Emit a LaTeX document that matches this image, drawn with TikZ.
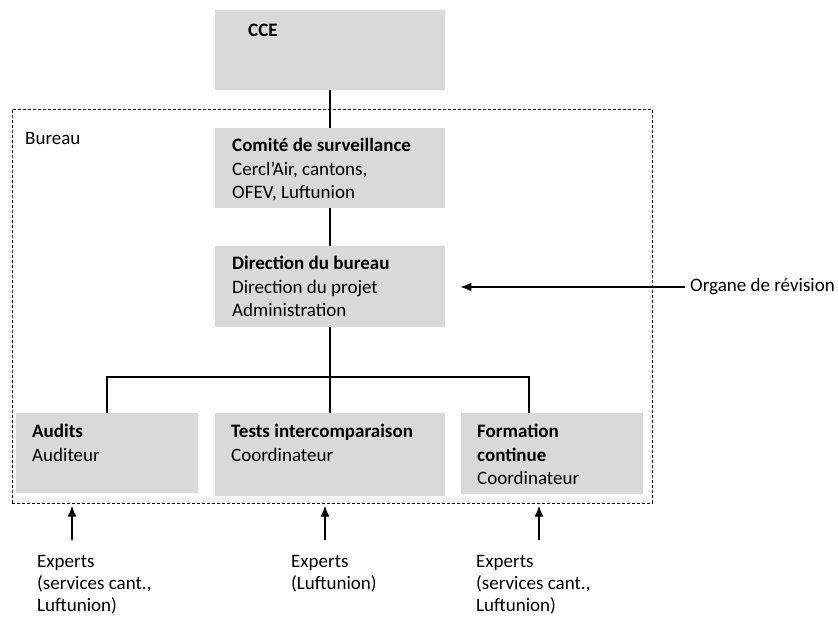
\documentclass[tikz,border=0pt]{standalone}
\usepackage{fontspec}
\setmainfont{Carlito}
\usetikzlibrary{arrows.meta}

\definecolor{boxgray}{HTML}{D9D9D9}

\tikzset{
  orgbox/.style={fill=boxgray, anchor=north west, inner sep=0pt},
  boxtext/.style={anchor=north west, inner sep=0pt, align=left,
    font=\fontsize{19}{23.5}\selectfont, execute at begin node=\strut},
  frame/.style={draw, dash pattern=on 3pt off 2pt, line width=0.7pt,
    anchor=north west, inner sep=0pt},
  link/.style={line width=1.5pt},
  feed/.style={line width=1.3pt, -{Latex[length=11pt,width=9pt]}},
}

\begin{document}
\begin{tikzpicture}[x=1pt, y=-1pt]
        \useasboundingbox (0,0) rectangle (838,616);

        % Bureau frame
        \node[frame, minimum width=640pt, minimum height=394pt] (bureau) at (12,109) {};
        \node[boxtext] (bureauText) at (25,128) {Bureau};

        % Boxes
        \node[orgbox, minimum width=230pt, minimum height=80pt] (cce) at (215,10) {};
        \node[orgbox, minimum width=230pt, minimum height=80pt] (comite) at (215,128) {};
        \node[orgbox, minimum width=230pt, minimum height=81pt] (direction) at (215,246) {};
        \node[orgbox, minimum width=182pt, minimum height=80pt] (audits) at (16,413) {};
        \node[orgbox, minimum width=230pt, minimum height=83pt] (tests) at (215,413) {};
        \node[orgbox, minimum width=182pt, minimum height=81pt] (formation) at (461,413) {};

        % Box texts
        \node[boxtext] (cceText) at (248,20) {\textbf{CCE}};
        \node[boxtext] (comiteText) at (232,138) {\textbf{Comité de surveillance}\\Cercl’Air, cantons,\\OFEV, Luftunion};
        \node[boxtext] (directionText) at (232,256) {\textbf{Direction du bureau}\\Direction du projet\\Administration};
        \node[boxtext] (auditsText) at (32,424) {\textbf{Audits}\\Auditeur};
        \node[boxtext] (testsText) at (231,424) {\textbf{Tests intercomparaison}\\Coordinateur};
        \node[boxtext] (formationText) at (477,424) {\textbf{Formation}\\\textbf{continue}\\Coordinateur};

        % Outside texts
        \node[boxtext] (organe) at (690,275) {Organe de révision};
        \node[boxtext, font=\fontsize{19}{22}\selectfont] (expA) at (37,555) {Experts\\(services cant.,\\Luftunion)};
        \node[boxtext, font=\fontsize{19}{22}\selectfont] (expB) at (291,555) {Experts\\(Luftunion)};
        \node[boxtext, font=\fontsize{19}{22}\selectfont] (expC) at (476,555) {Experts\\(services cant.,\\Luftunion)};

        % Vertical links
        \draw[link] (cce) -- (comite);
        \draw[link] (comite) -- (direction);
        \draw[link] (direction) -- (tests);

        % Branch bar
        \coordinate (barL) at (107,377);
        \coordinate (barR) at (529,377);
        \draw[link] (barL |- audits.north) -- (barL) -- (barR) -- (barR |- formation.north);

        % Arrows into the bureau
        \coordinate (srcA) at (72,540);
        \coordinate (srcB) at (325,540);
        \coordinate (srcC) at (539,540);
        \draw[feed, shorten >=2pt] (srcA) -- (srcA |- bureau.south);
        \draw[feed, shorten >=2pt] (srcB) -- (srcB |- bureau.south);
        \draw[feed, shorten >=2pt] (srcC) -- (srcC |- bureau.south);
        \draw[feed, shorten <=5pt, shorten >=15pt] (organe.west) -- (organe.west -| direction.east);

\end{tikzpicture}
\end{document}
